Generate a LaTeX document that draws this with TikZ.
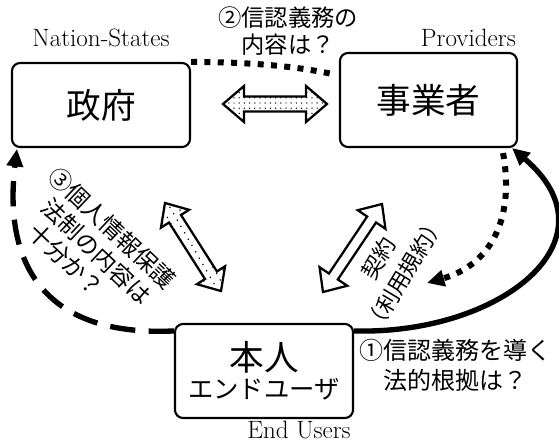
\documentclass[tikz,border=0pt]{standalone}
\usepackage{fontspec}
\newfontfamily\jp{Noto Sans CJK JP}
\usetikzlibrary{calc,arrows.meta,patterns.meta}

\tikzset{
  box/.style={draw, line width=1.6pt, rounded corners=6pt, inner sep=0pt, align=center,
    font=\jp\fontsize{26}{30}\selectfont},
  latin/.style={inner sep=0pt, font=\fontsize{18.8}{22}\selectfont},
  jplab/.style={inner sep=0pt, align=center, font=\jp\fontsize{18}{22.5}\selectfont},
  dotconn/.style={line width=4.5pt, dash pattern=on 4.5pt off 5.5pt},
  dashconn/.style={line width=4pt, dash pattern=on 19pt off 10pt},
  solidconn/.style={line width=4pt},
  bigtip/.style={-{Triangle[length=13pt,width=12pt]}},
  darrow/.style={draw, line width=1.7pt, line join=miter, preaction={fill=white}},
  dotsA/.style={pattern={Dots[radius=0.55pt, distance=3.9pt]}},
  dotsB/.style={pattern={Dots[radius=0.65pt, distance=5.5pt, angle=30]}},
}

% double-headed block arrow between two named coordinates
\newcommand\dblarrow[6]{%
  \coordinate (dA) at ($(#1)!#3!(#2)$);
  \coordinate (dB) at ($(#2)!#3!(#1)$);
  \draw[#6] (#1) -- ($(dA)!#4!-90:(#2)$) -- ($(dA)!#5!-90:(#2)$)
    -- ($(dB)!#5!90:(#1)$) -- ($(dB)!#4!90:(#1)$) -- (#2)
    -- ($(dB)!#4!-90:(#1)$) -- ($(dB)!#5!-90:(#1)$)
    -- ($(dA)!#5!90:(#2)$) -- ($(dA)!#4!90:(#2)$) -- cycle;
}

\begin{document}
\begin{tikzpicture}[x=0.75pt,y=-0.75pt]
\useasboundingbox (0,0) rectangle (559,441);

% boxes
\node[box, minimum width=133.5pt, minimum height=63pt] (gov) at (101,105) {政府};
\node[box, minimum width=132.75pt, minimum height=70.5pt] (prov) at (428.5,100) {事業者};
\node[box, minimum width=133.5pt, minimum height=70.5pt] (user) at (264,371)
  {本人\\[-9pt]{\fontsize{19}{22}\selectfont エンドユーザ}};

% English labels
\node[latin, anchor=base] (lgov) at (101,47) {Nation-States};
\node[latin, anchor=base east] (lprov) at (516,47) {Providers};
\node[latin, anchor=base east] (luser) at (351,438) {End Users};

% question labels
\node[jplab, font=\jp\fontsize{17.5}{20.5}\selectfont] (q2) at (288,31) {②信認義務の\\内容は？};
\node[jplab] (q1) at (455,365) {①信認義務を導く\\法的根拠は？};
\node[jplab, align=left, rotate=-43.5, font=\jp\fontsize{17.5}{20.6}\selectfont] (q3) at (93,248)
  {③個人情報保護\\\hspace*{12.75pt}法制の内容は\\\hspace*{18pt}十分か？};
\node[jplab, rotate=59, font=\jp\fontsize{16.5}{23}\selectfont] (q4) at (391.5,266) {契約\\（利用規約）};

% connector end points
\coordinate (pL) at ($(prov.north west)+(-7,22)$);
\coordinate (pB) at ($(prov.south east)+(-15,5)$);
\coordinate (cT) at (427,283);
\coordinate (pC) at ($(prov.south east)+(-6,0)$);
\coordinate (uR) at ($(user.north east)+(0,8)$);
\coordinate (uL) at ($(user.north west)+(0,8)$);
\coordinate (gL) at ($(gov.south west)+(6,1)$);

% connectors
\draw[dotconn] (gov.north east) .. controls (240,62) and (290,65) .. (pL);
\draw[dotconn, bigtip] (pB) .. controls (515,220) and (490,265) .. (cT);
\draw[solidconn, bigtip] (uR) .. controls (500,335) and (620,240) .. (pC);
\draw[dashconn, bigtip] (uL) .. controls (45,337) and (3,265) .. (gL);

% block double arrows
\coordinate (hA) at (223,104); \coordinate (hB) at (327,104);
\dblarrow{hA}{hB}{15.75pt}{13.5pt}{5.6pt}{darrow, dotsA}
\coordinate (lA) at (165,203); \coordinate (lB) at (221,291);
\dblarrow{lA}{lB}{14pt}{12.5pt}{5.3pt}{darrow, dotsB}
\coordinate (rA) at (382,204); \coordinate (rB) at (323,292);
\dblarrow{rA}{rB}{14pt}{12.5pt}{4pt}{darrow}
\end{tikzpicture}
\end{document}
